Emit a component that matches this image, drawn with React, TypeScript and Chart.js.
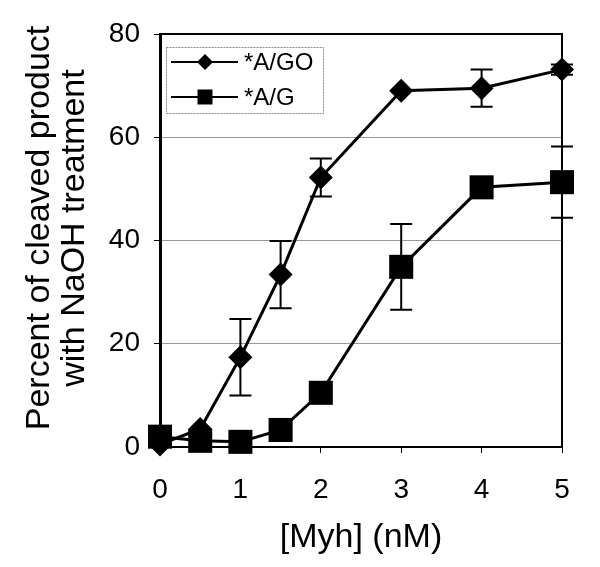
import React, { useEffect, useRef } from "react";
import { Chart, registerables } from "chart.js";

Chart.register(...registerables);

const X_VALUES = [0, 0.5, 1, 1.5, 2, 3, 4, 5];
const AGO_LABEL = "*A/GO";
const AGO_VALUES = [0.5, 3.5, 17.4, 33.4, 52.2, 69.0, 69.5, 73.1];
const AGO_ERRORS = [0, 0, 7.4, 6.5, 3.7, 0, 3.6, 1.0];
const AG_LABEL = "*A/G";
const AG_VALUES = [2.0, 1.2, 1.0, 3.3, 10.5, 34.9, 50.3, 51.3];
const AG_ERRORS = [0, 0, 0, 0, 0, 8.3, 0, 6.9];
const X_TICKS = [0, 1, 2, 3, 4, 5];
const Y_TICKS = [0, 20, 40, 60, 80];
const X_TITLE = "[Myh] (nM)";
const Y_TITLE = ["Percent of cleaved product", "with NaOH treatment"];

const FONT = "'Liberation Sans', Arial, sans-serif";

const errorBarPlugin = {
  id: "errorBars",
  beforeDatasetsDraw(chart: any) {
    const ctx = chart.ctx;
    const xs = chart.scales.x;
    const ys = chart.scales.y;
    ctx.save();
    ctx.strokeStyle = "#000";
    ctx.lineWidth = 2;
    chart.data.datasets.forEach((ds: any) => {
      const errs: number[] = ds.errors || [];
      ds.data.forEach((p: any, i: number) => {
        const e = errs[i];
        if (!e) return;
        const px = xs.getPixelForValue(p.x);
        const top = ys.getPixelForValue(p.y + e);
        const bot = ys.getPixelForValue(p.y - e);
        ctx.beginPath();
        ctx.moveTo(px, top);
        ctx.lineTo(px, bot);
        ctx.moveTo(px - 11, top);
        ctx.lineTo(px + 11, top);
        ctx.moveTo(px - 11, bot);
        ctx.lineTo(px + 11, bot);
        ctx.stroke();
      });
    });
    ctx.restore();
  },
};

const framePlugin = {
  id: "frame",
  beforeDraw(chart: any) {
    const ctx = chart.ctx;
    ctx.save();
    ctx.fillStyle = "#fff";
    ctx.fillRect(0, 0, chart.width, chart.height);
    ctx.restore();
  },
  afterDatasetsDraw(chart: any) {
    const ctx = chart.ctx;
    const a = chart.chartArea;
    ctx.save();
    ctx.strokeStyle = "#000";
    ctx.lineWidth = 2;
    ctx.beginPath();
    ctx.moveTo(a.left, a.top);
    ctx.lineTo(a.right, a.top);
    ctx.lineTo(a.right, a.bottom);
    ctx.stroke();
    ctx.restore();
  },
  afterDraw(chart: any) {
    const ctx = chart.ctx;
    const a = chart.chartArea;
    // y axis title (two lines, rotated)
    ctx.save();
    ctx.fillStyle = "#000";
    ctx.font = `34px ${FONT}`;
    ctx.textAlign = "center";
    ctx.textBaseline = "middle";
    ctx.translate(0, 228);
    ctx.rotate(-Math.PI / 2);
    Y_TITLE.forEach((line, i) => {
      ctx.fillText(line, 0, 40 + i * 35);
    });
    ctx.restore();

    // legend
    const bx = a.left + 6;
    const by = a.top + 13;
    const bw = 157;
    const bh = 66;
    ctx.save();
    ctx.fillStyle = "#fff";
    ctx.fillRect(bx, by, bw, bh);
    ctx.strokeStyle = "#888";
    ctx.lineWidth = 1;
    ctx.setLineDash([2, 1]);
    ctx.strokeRect(bx + 0.5, by + 0.5, bw, bh);
    ctx.setLineDash([]);
    chart.data.datasets.forEach((ds: any, i: number) => {
      const cy = by + 15 + i * 35;
      ctx.strokeStyle = "#000";
      ctx.lineWidth = 2;
      ctx.beginPath();
      ctx.moveTo(bx + 5, cy);
      ctx.lineTo(bx + 72, cy);
      ctx.stroke();
      ctx.fillStyle = "#000";
      const mx = bx + 39;
      ctx.beginPath();
      if (ds.pointStyle === "rectRot") {
        ctx.moveTo(mx, cy - 8);
        ctx.lineTo(mx + 8, cy);
        ctx.lineTo(mx, cy + 8);
        ctx.lineTo(mx - 8, cy);
        ctx.closePath();
      } else {
        ctx.rect(mx - 7.5, cy - 7.5, 15, 15);
      }
      ctx.fill();
      ctx.font = `24px ${FONT}`;
      ctx.textAlign = "left";
      ctx.textBaseline = "middle";
      ctx.fillText(ds.label, bx + 78, cy + 1);
    });
    ctx.restore();
  },
};

export default function App() {
  const ref = useRef<HTMLCanvasElement | null>(null);
  useEffect(() => {
    document.body.style.margin = "0";
    const canvas = ref.current;
    if (!canvas) return;
    const chart = new Chart(canvas, {
      type: "line",
      data: {
        datasets: [
          {
            label: AGO_LABEL,
            data: X_VALUES.map((x, i) => ({ x, y: AGO_VALUES[i] })),
            errors: AGO_ERRORS,
            borderColor: "#000",
            backgroundColor: "#000",
            borderWidth: 3,
            pointStyle: "rectRot",
            pointRadius: 12,
            pointHoverRadius: 12,
            pointBorderWidth: 0,
            tension: 0,
            clip: false,
          } as any,
          {
            label: AG_LABEL,
            data: X_VALUES.map((x, i) => ({ x, y: AG_VALUES[i] })),
            errors: AG_ERRORS,
            borderColor: "#000",
            backgroundColor: "#000",
            borderWidth: 3,
            pointStyle: "rect",
            pointRadius: 17,
            pointHoverRadius: 17,
            pointBorderWidth: 0,
            tension: 0,
            clip: false,
          } as any,
        ],
      },
      options: {
        animation: false,
        responsive: false,
        maintainAspectRatio: false,
        events: [],
        layout: { padding: { top: 34, right: 38, left: 0, bottom: 0 } },
        plugins: {
          legend: { display: false },
          tooltip: { enabled: false },
        },
        scales: {
          x: {
            type: "linear",
            min: 0,
            max: 5,
            afterFit: (s: any) => {
              s.height = 120;
            },
            afterBuildTicks: (s: any) => {
              s.ticks = X_TICKS.map((v) => ({ value: v }));
            },
            border: { display: true, color: "#000", width: 2 },
            grid: {
              display: true,
              drawOnChartArea: false,
              drawTicks: true,
              tickLength: 6,
              tickColor: "#000",
              tickWidth: 1,
            },
            ticks: {
              color: "#000",
              padding: 20,
              font: { family: FONT, size: 28 },
              maxRotation: 0,
            },
            title: {
              display: true,
              text: X_TITLE,
              color: "#000",
              font: { family: FONT, size: 34, lineHeight: 1 },
              padding: { top: 0, bottom: 12 },
            },
          },
          y: {
            type: "linear",
            min: 0,
            max: 80,
            afterFit: (s: any) => {
              s.width = 160;
            },
            afterBuildTicks: (s: any) => {
              s.ticks = Y_TICKS.map((v) => ({ value: v }));
            },
            border: { display: true, color: "#000", width: 3 },
            grid: {
              display: true,
              drawTicks: true,
              tickLength: 6,
              tickColor: "#000",
              color: (c: any) =>
                c.tick && (c.tick.value === 0 || c.tick.value === 80)
                  ? "rgba(0,0,0,0)"
                  : "#999",
              lineWidth: 1,
            },
            ticks: {
              color: "#000",
              padding: 14,
              font: { family: FONT, size: 28 },
            },
            title: { display: false },
          },
        },
      },
      plugins: [framePlugin, errorBarPlugin],
    } as any);
    return () => chart.destroy();
  }, []);
  return (
    <div style={{ position: "fixed", left: 0, top: 0, width: 600, height: 567 }}>
      <canvas ref={ref} width={600} height={567} style={{ width: 600, height: 567 }} />
    </div>
  );
}
